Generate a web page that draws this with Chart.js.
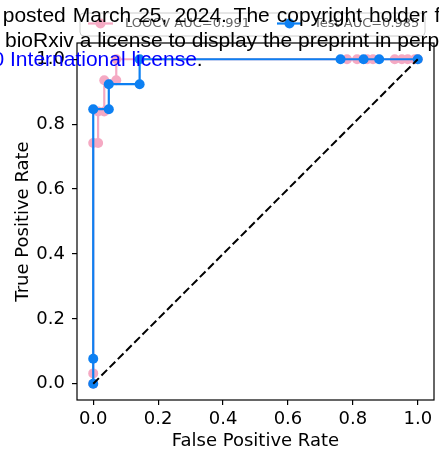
<!DOCTYPE html>
<html>
<head>
<meta charset="utf-8">
<script src="https://cdn.jsdelivr.net/npm/chart.js@4"></script>
<style>
  body { margin: 0; background: #fff; }
  #wrap { position: relative; width: 439px; height: 459px; overflow: hidden; }
  .note { position: absolute; white-space: nowrap; font-family: "Liberation Sans", Arial, sans-serif;
          font-size: 21px; line-height: 21px; color: #000; }
  .note .link { color: #0000ff; }
</style>
</head>
<body>
<div id="wrap">
  <canvas id="rocChart" width="439" height="459"></canvas>
  <div class="note" style="left:-16px; top:4px; word-spacing:1.2px;">n posted March 25, 2024. The copyright holder for this preprint</div>
  <div class="note" style="left:5px; top:29px;">bioRxiv a license to display the preprint in perpetuity. It is made</div>
  <div class="note" style="left:-25px; top:48px;"><span class="link">4.0 International license</span>.</div>
</div>
<script>
// ROC points
const loocvFpr = [0, 0, 0, 0.015, 0.015, 0.034, 0.034, 0.071, 0.071, 0.782, 0.813, 0.844, 0.862, 0.929, 0.951, 0.969, 0.991, 1.0];
const loocvTpr = [0, 0.032, 0.742, 0.742, 0.839, 0.839, 0.935, 0.935, 1, 1, 1, 1, 1, 1, 1, 1, 1, 1];
const testFpr = [0, 0, 0, 0.048, 0.048, 0.143, 0.143, 0.762, 0.833, 0.881, 1.0];
const testTpr = [0, 0.077, 0.846, 0.846, 0.923, 0.923, 1, 1, 1, 1, 1];
const chanceFpr = [0, 1];
const chanceTpr = [0, 1];
const tickValues = [0, 0.2, 0.4, 0.6, 0.8, 1.0];
const seriesLabels = ['LOOCV AUC=0.991', 'Test AUC=0.985'];

const pink = '#f5a9c3';
const blue = '#0d80f2';
const axisFont = { family: 'DejaVu Sans', size: 18 };

function toPoints(xs, ys) {
  return xs.map((x, i) => ({ x: x, y: ys[i] }));
}

// matplotlib style box around the axes
const axesFrame = {
  id: 'axesFrame',
  afterDatasetsDraw(chart) {
    const a = chart.chartArea;
    const ctx = chart.ctx;
    ctx.save();
    ctx.strokeStyle = '#000';
    ctx.lineWidth = 1.2;
    ctx.strokeRect(a.left, a.top, a.right - a.left, a.bottom - a.top);
    ctx.restore();
  }
};

// legend with line + marker sample like matplotlib
const rocLegend = {
  id: 'rocLegend',
  afterDraw(chart) {
    const ctx = chart.ctx;
    ctx.save();
    const x0 = 80, y0 = 13, w = 345, h = 23, r = 4;
    ctx.beginPath();
    ctx.roundRect(x0, y0, w, h, r);
    ctx.fillStyle = 'rgba(255,255,255,0.8)';
    ctx.fill();
    ctx.strokeStyle = '#cccccc';
    ctx.lineWidth = 1;
    ctx.stroke();

    const cy = 23.5;
    const starts = [88, 277];
    seriesLabels.forEach((lbl, i) => {
      const ds = chart.data.datasets.find(d => d.label === lbl);
      const sx = starts[i];
      ctx.strokeStyle = ds.borderColor;
      ctx.lineWidth = 2.2;
      ctx.beginPath();
      ctx.moveTo(sx, cy);
      ctx.lineTo(sx + 25, cy);
      ctx.stroke();
      ctx.fillStyle = ds.borderColor;
      ctx.beginPath();
      ctx.arc(sx + 12.5, cy, 5, 0, Math.PI * 2);
      ctx.fill();
      ctx.fillStyle = '#666';
      ctx.font = '13px "DejaVu Sans"';
      ctx.textBaseline = 'middle';
      ctx.fillText(ds.label, sx + 37, cy);
    });
    ctx.restore();
  }
};

const ctx = document.getElementById('rocChart').getContext('2d');
new Chart(ctx, {
  type: 'scatter',
  data: {
    datasets: [
      {
        label: 'chance',
        data: toPoints(chanceFpr, chanceTpr),
        showLine: true,
        borderColor: '#000',
        borderWidth: 2,
        borderDash: [8, 3.6],
        pointRadius: 0,
        order: 0
      },
      {
        label: seriesLabels[1],
        data: toPoints(testFpr, testTpr),
        showLine: true,
        borderColor: blue,
        backgroundColor: blue,
        borderWidth: 2.2,
        pointRadius: 5,
        pointBorderWidth: 0,
        pointBackgroundColor: blue,
        order: 1
      },
      {
        label: seriesLabels[0],
        data: toPoints(loocvFpr, loocvTpr),
        showLine: true,
        borderColor: pink,
        backgroundColor: pink,
        borderWidth: 2.2,
        pointRadius: 5,
        pointBorderWidth: 0,
        pointBackgroundColor: pink,
        order: 2
      }
    ]
  },
  options: {
    responsive: false,
    animation: false,
    devicePixelRatio: 1,
    layout: { padding: { top: 43, right: 4, left: 0, bottom: 0 } },
    plugins: {
      legend: { display: false },
      tooltip: { enabled: false }
    },
    scales: {
      x: {
        type: 'linear',
        min: -0.05,
        max: 1.05,
        afterBuildTicks: s => { s.ticks = tickValues.map(v => ({ value: v })); },
        afterFit: s => { s.height = 59; },
        ticks: {
          callback: v => v.toFixed(1),
          font: axisFont,
          color: '#000',
          padding: 4,
          maxRotation: 0,
          autoSkip: false
        },
        grid: { display: true, drawOnChartArea: false, drawTicks: true, tickLength: 5, color: '#000', lineWidth: 1.2 },
        border: { display: false },
        title: { display: true, text: 'False Positive Rate', font: axisFont, color: '#000', padding: { top: 0, bottom: 7 } }
      },
      y: {
        type: 'linear',
        min: -0.05,
        max: 1.05,
        afterBuildTicks: s => { s.ticks = tickValues.map(v => ({ value: v })); },
        afterFit: s => { s.width = 77; },
        ticks: {
          callback: v => v.toFixed(1),
          font: axisFont,
          color: '#000',
          padding: 7,
          autoSkip: false
        },
        grid: { display: true, drawOnChartArea: false, drawTicks: true, tickLength: 5, color: '#000', lineWidth: 1.2 },
        border: { display: false },
        title: { display: true, text: 'True Positive Rate', font: axisFont, color: '#000', padding: { top: 13, bottom: 0 } }
      }
    }
  },
  plugins: [axesFrame, rocLegend]
});
</script>
</body>
</html>
